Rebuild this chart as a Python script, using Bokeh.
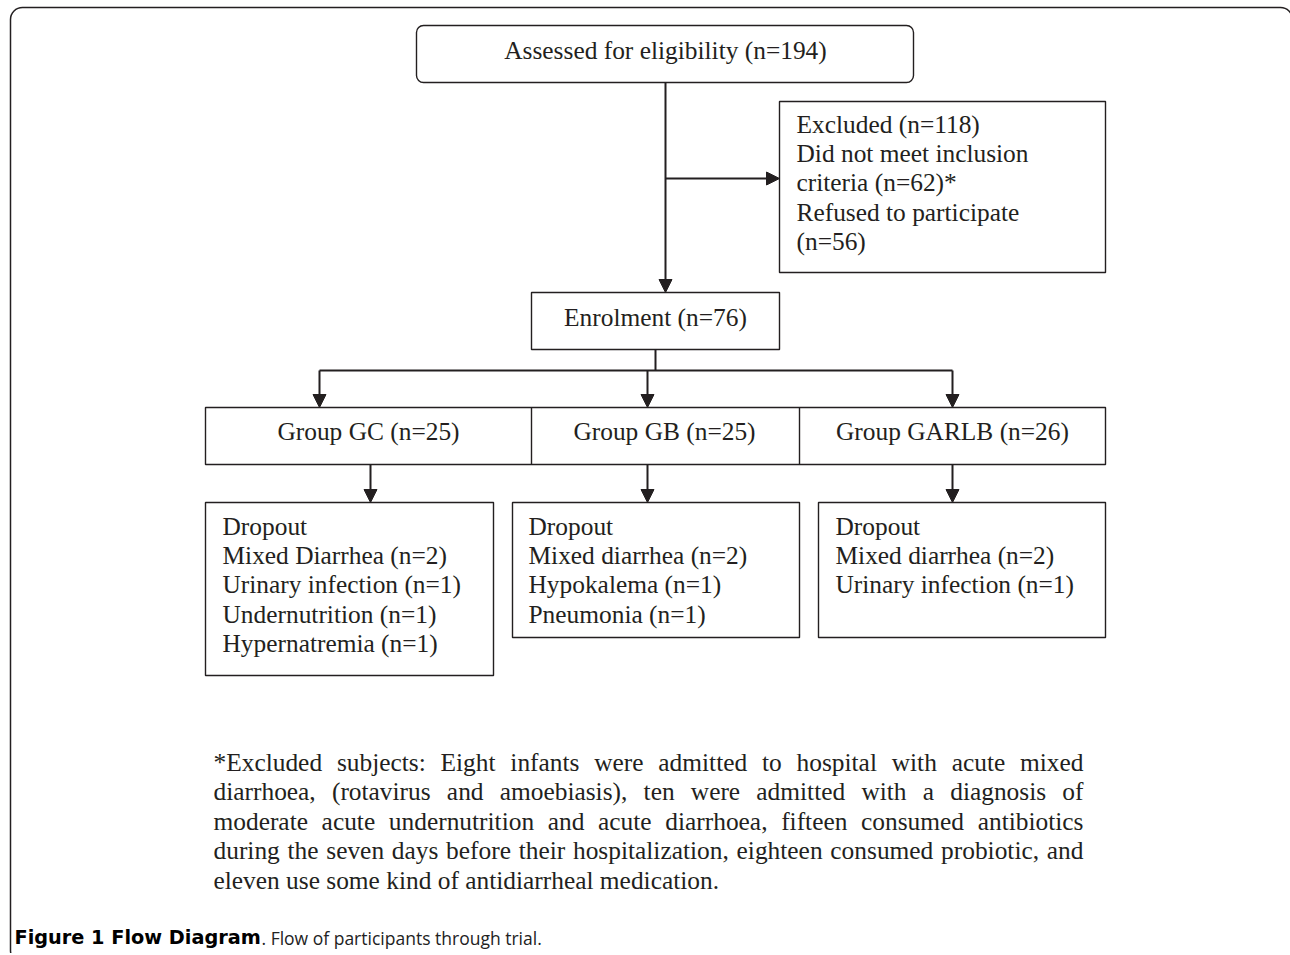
from bokeh.plotting import figure
from bokeh.models import Range1d, Arrow, NormalHead, ColumnDataSource
from bokeh.core.properties import value
from bokeh.embed import file_html
from bokeh.resources import INLINE

# ---------------- content ----------------
assessed_label = "Assessed for eligibility (n=194)"
excluded_lines = ["Excluded (n=118)", "Did not meet inclusion", "criteria (n=62)*",
                  "Refused to participate", "(n=56)"]
enrolment_label = "Enrolment (n=76)"
group_labels = ["Group GC (n=25)", "Group GB (n=25)", "Group GARLB (n=26)"]
dropout_gc = ["Dropout", "Mixed Diarrhea (n=2)", "Urinary infection (n=1)",
              "Undernutrition (n=1)", "Hypernatremia (n=1)"]
dropout_gb = ["Dropout", "Mixed diarrhea (n=2)", "Hypokalema (n=1)", "Pneumonia (n=1)"]
dropout_garlb = ["Dropout", "Mixed diarrhea (n=2)", "Urinary infection (n=1)"]
footnote_lines = [
    "*Excluded subjects: Eight infants were admitted to hospital with acute mixed",
    "diarrhoea, (rotavirus and amoebiasis), ten were admitted with a diagnosis of",
    "moderate acute undernutrition and acute diarrhoea, fifteen consumed antibiotics",
    "during the seven days before their hospitalization, eighteen consumed probiotic, and",
    "eleven use some kind of antidiarrheal medication.",
]
caption_bold = "Figure 1 Flow Diagram"
caption_rest = ". Flow of participants through trial."

# ---------------- layout (page pixels) ----------------
INK = "#231f20"
SERIF = "Liberation Serif"
FS = 25.4
FS_STR = "25.4px"
LINE_H = 29.4

W, H = 1290, 953
p = figure(width=W, height=H, x_range=Range1d(0, W), y_range=Range1d(H, 0),
           x_axis_type=None, y_axis_type=None, toolbar_location=None,
           output_backend="svg", min_border=0, outline_line_color=None,
           background_fill_color="white", border_fill_color="white")
p.grid.visible = False

# outer rounded frame
p.quad(left=[10], right=[1292], top=[7], bottom=[962], fill_color=None,
       line_color=INK, line_width=1.5, border_radius=12)

# boxes: (left, right, top, bottom, radius)
boxes = [
    (416, 913, 25, 82, 7),      # assessed
    (779, 1105, 101, 272, 0),   # excluded
    (531, 779, 292, 349, 0),    # enrolment
    (205, 1105, 407, 464, 0),   # group row
    (205, 493, 502, 675, 0),    # dropout GC
    (512, 799, 502, 637, 0),    # dropout GB
    (818, 1105, 502, 637, 0),   # dropout GARLB
]
for l, r, t, b, rad in boxes:
    p.quad(left=[l], right=[r], top=[t], bottom=[b], fill_color=None,
           line_color=INK, line_width=1.4, border_radius=rad)

# dividers in group row
p.segment(x0=[531, 799], y0=[407, 407], x1=[531, 799], y1=[464, 464],
          line_color=INK, line_width=1.4)

# connector lines (no heads)
p.segment(x0=[655, 319], y0=[349, 370], x1=[655, 952], y1=[370, 370],
          line_color=INK, line_width=2)

# arrows
arrows = [
    (665, 82, 665, 292),
    (665, 178, 779, 178),
    (319, 370, 319, 407),
    (647, 370, 647, 407),
    (952, 370, 952, 407),
    (370, 464, 370, 502),
    (647, 464, 647, 502),
    (952, 464, 952, 502),
]
for x0, y0, x1, y1 in arrows:
    p.add_layout(Arrow(end=NormalHead(size=13, line_color=INK, fill_color=INK, line_width=1),
                       x_start=x0, y_start=y0, x_end=x1, y_end=y1,
                       line_color=INK, line_width=2))

def centered(txt, x, y):
    p.text(x=[x], y=[y], text=[txt], text_align="center", text_baseline="middle",
           text_font=value(SERIF), text_font_size=FS_STR, text_color=INK)

def left_block(lines, x, y0):
    ys = [y0 + i * LINE_H for i in range(len(lines))]
    p.text(x=[x] * len(lines), y=ys, text=lines, text_align="left", text_baseline="middle",
           text_font=value(SERIF), text_font_size=FS_STR, text_color=INK)

centered(assessed_label, 665, 49)
left_block(excluded_lines, 796, 123)
centered(enrolment_label, 655, 316)
for lbl, cx in zip(group_labels, [368, 664, 952]):
    centered(lbl, cx, 430)
left_block(dropout_gc, 222, 525)
left_block(dropout_gb, 528, 525)
left_block(dropout_garlb, 835, 525)

# ---------------- justified footnote ----------------
TNR = {' ': 250, '!': 333, '(': 333, ')': 333, '*': 500, ',': 250, '-': 333, '.': 250,
       ':': 278, ';': 278, '=': 564,
       'A': 722, 'B': 667, 'C': 667, 'D': 722, 'E': 611, 'F': 556, 'G': 722, 'H': 722,
       'I': 333, 'J': 389, 'K': 722, 'L': 611, 'M': 889, 'N': 722, 'O': 722, 'P': 556,
       'Q': 722, 'R': 667, 'S': 556, 'T': 611, 'U': 722, 'V': 722, 'W': 944, 'X': 722,
       'Y': 722, 'Z': 611,
       'a': 444, 'b': 500, 'c': 444, 'd': 500, 'e': 444, 'f': 333, 'g': 500, 'h': 500,
       'i': 278, 'j': 278, 'k': 500, 'l': 278, 'm': 778, 'n': 500, 'o': 500, 'p': 500,
       'q': 500, 'r': 333, 's': 389, 't': 278, 'u': 500, 'v': 500, 'w': 722, 'x': 500,
       'y': 500, 'z': 444}
for d in "0123456789":
    TNR[d] = 500

def tw(s):
    return sum(TNR.get(c, 500) for c in s) * FS / 1000.0

FN_L, FN_R, FN_Y0, FN_LH = 213, 1083, 761, 29.5
wx, wy, wt, wa = [], [], [], []
for i, line in enumerate(footnote_lines):
    y = FN_Y0 + i * FN_LH
    words = line.split(" ")
    if i == len(footnote_lines) - 1:
        wx.append(FN_L); wy.append(y); wt.append(line); wa.append("left")
        continue
    total = sum(tw(w) for w in words)
    gap = (FN_R - FN_L - total) / (len(words) - 1)
    x = FN_L
    for j, w in enumerate(words):
        if j == len(words) - 1:
            wx.append(FN_R); wa.append("right")
        else:
            wx.append(x); wa.append("left")
        wy.append(y); wt.append(w)
        x += tw(w) + gap
src = ColumnDataSource(dict(x=wx, y=wy, text=wt, align=wa))
p.text(x="x", y="y", text="text", text_align="align", source=src, text_baseline="middle",
       text_font=value(SERIF), text_font_size=FS_STR, text_color=INK)

# ---------------- caption ----------------
p.text(x=[14], y=[937], text=[caption_bold], text_align="left", text_baseline="middle",
       text_font=value("DejaVu Sans"), text_font_style="bold", text_font_size="19.3px",
       text_color="#000000")
p.text(x=[261], y=[937], text=[caption_rest], text_align="left", text_baseline="middle",
       text_font=value("Open Sans"), text_font_size="17.5px", text_color="#222222")

open("out.html", "w").write(file_html(p, INLINE))
